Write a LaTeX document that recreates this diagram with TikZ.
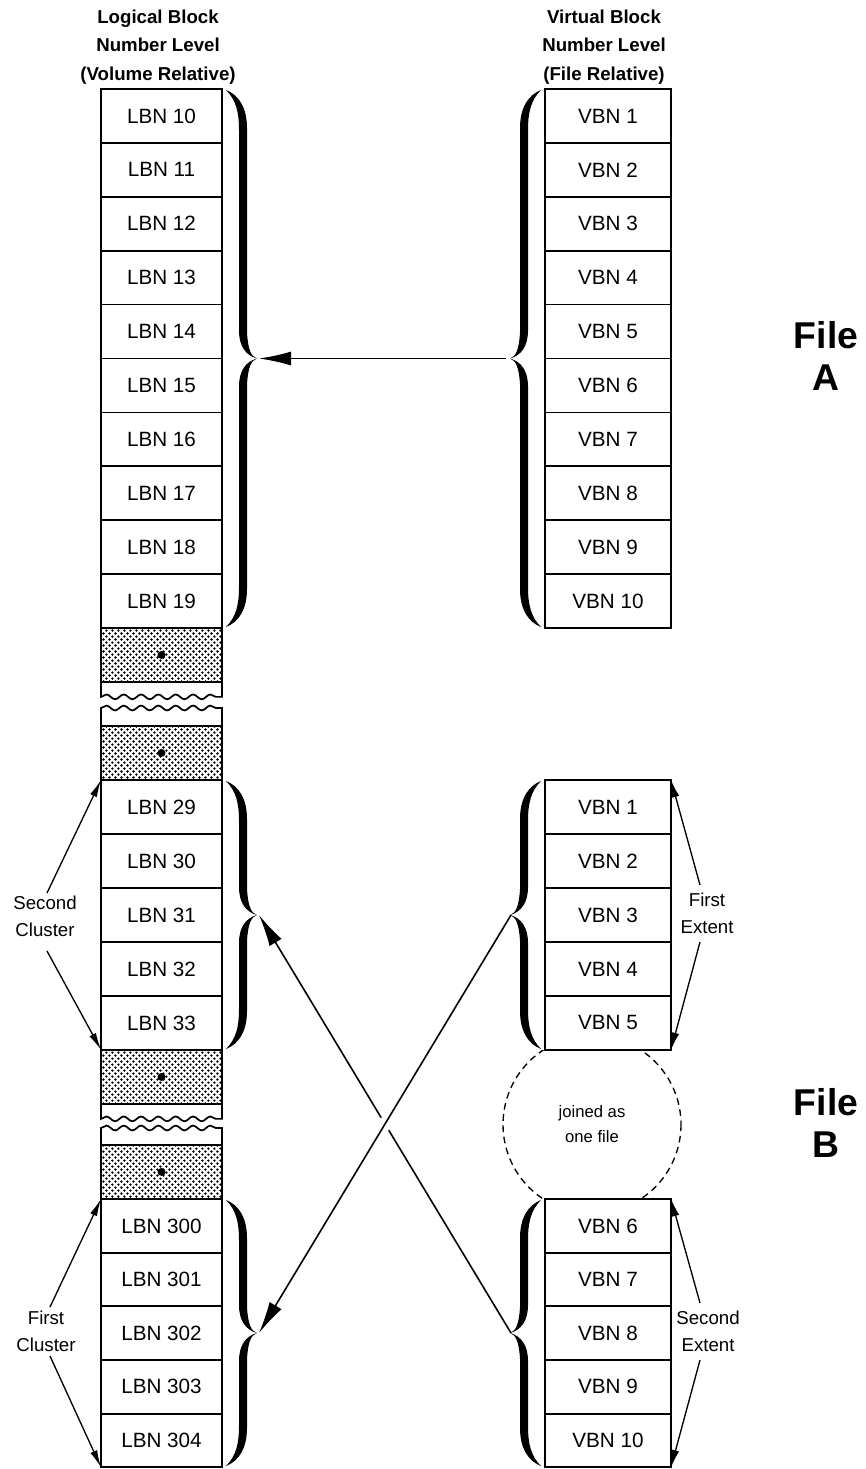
\documentclass[tikz,border=0pt]{standalone}
\usepackage{fontspec}
\setmainfont{Liberation Sans}
\usetikzlibrary{arrows.meta,patterns,decorations.pathmorphing,calc}

% halftone stipple for the unused blocks
\pgfdeclarepatternformonly{stipple}{\pgfpointorigin}{\pgfqpoint{4.8pt}{4.8pt}}{\pgfqpoint{4.8pt}{4.8pt}}{%
  \pgfpathcircle{\pgfqpoint{1.2pt}{1.2pt}}{1.05pt}%
  \pgfpathcircle{\pgfqpoint{3.6pt}{3.6pt}}{1.05pt}%
  \pgfusepath{fill}}

% one half of a calligraphic brace, tip at the origin, end at distance #1 above
\newcommand\halfbrace[1]{%
  \fill (0,0) .. controls (-6,-2) and (-9,-9) .. (-10,-26)
    -- (-10,{-#1+38})
    .. controls (-10,{-#1+18}) and (-18,{-#1+5}) .. (-31,{-#1})
    .. controls (-21,{-#1+10}) and (-18,{-#1+22}) .. (-18,{-#1+40})
    -- (-18,-28)
    .. controls (-18,-12) and (-11,-3) .. (0,0) -- cycle;}

% full brace: #1 tip x, #2 top y, #3 bottom y, #4 = 1 closing, -1 opening
\newcommand\curly[4]{%
  \pgfmathsetmacro\bh{(#3-#2)/2}%
  \pgfmathsetmacro\bm{(#3+#2)/2}%
  \begin{scope}[shift={(#1,\bm)}, xscale=#4]\halfbrace{\bh}\end{scope}
  \begin{scope}[shift={(#1,\bm)}, xscale=#4, yscale=-1]\halfbrace{\bh}\end{scope}}

\tikzset{
  cell/.style={draw, line width=1.3pt, minimum width=90.75pt, minimum height=40.4pt,
    inner sep=0pt, outer sep=0pt, anchor=north west, font=\fontsize{15.5}{18}\selectfont},
  shade/.style={cell, pattern=stipple},
  edge/.style={line width=1.3pt, decoration={snake, amplitude=1.8pt, segment length=13pt}},
  hdr/.style={align=center, inner sep=0pt, font=\bfseries\fontsize{14}{21.5}\selectfont},
  side/.style={align=center, inner sep=0pt, font=\fontsize{14}{20}\selectfont},
  filelbl/.style={align=center, inner sep=0pt, font=\bfseries\fontsize{28}{32}\selectfont},
  bigarrow/.style={line width=1.2pt, -{Latex[length=24pt, width=10.5pt]}},
  smallarrow/.style={line width=1pt, -{Latex[length=13pt, width=5.5pt]}},
}

\begin{document}
\begin{tikzpicture}[x=0.75pt, y=-0.75pt]
\useasboundingbox (0,0) rectangle (866,1469);

% column headings
\node[hdr] (hl) at (158,47) {Logical Block\\Number Level\\(Volume Relative)};
\node[hdr] (hr) at (604,47) {Virtual Block\\Number Level\\(File Relative)};

% dashed join between the two extents, partly behind the blocks
\begin{scope}
  \clip (450,1050) rectangle (760,1199);
  \draw[line width=1pt, dash pattern=on 5pt off 3.5pt] (592,1124.5) circle (89);
\end{scope}
\node[side, font=\fontsize{12.5}{19}\selectfont] (join) at (592,1124) {joined as\\one file};

% logical blocks, file A
\foreach \n [count=\i from 0] in {10,...,19}
  \node[cell] (l\n) at (101,{89+53.9*\i}) {LBN \n};
% skipped region
\node[shade] (s1) at (101,628) {};
\fill (s1.center) circle (3pt);
\draw[edge] (s1.south west) -- ++(0,15) decorate {-- ++(121,0)} -- (s1.south east);
\node[shade] (s2) at (101,726) {};
\fill (s2.center) circle (3pt);
\draw[edge] (s2.north west) -- ++(0,-18) decorate {-- ++(121,0)} -- (s2.north east);
% logical blocks, second cluster
\foreach \n [count=\i from 0] in {29,...,33}
  \node[cell] (l\n) at (101,{780+54*\i}) {LBN \n};
\node[shade] (s3) at (101,1050) {};
\fill (s3.center) circle (3pt);
\draw[edge] (s3.south west) -- ++(0,15) decorate {-- ++(121,0)} -- (s3.south east);
\node[shade] (s4) at (101,1145) {};
\fill (s4.center) circle (3pt);
\draw[edge] (s4.north west) -- ++(0,-17) decorate {-- ++(121,0)} -- (s4.north east);
% logical blocks, first cluster
\foreach \n [count=\i from 0] in {300,...,304}
  \node[cell] (l\n) at (101,{1199+53.6*\i}) {LBN \n};

% virtual blocks
\foreach \n [count=\i from 0] in {1,...,10}
  \node[cell, minimum width=94.5pt] (a\n) at (545,{89+53.9*\i}) {VBN \n};
\foreach \n [count=\i from 0] in {1,...,5}
  \node[cell, minimum width=94.5pt] (b\n) at (545,{780+54*\i}) {VBN \n};
\foreach \n [count=\i from 0] in {6,...,10}
  \node[cell, minimum width=94.5pt] (b\n) at (545,{1199+53.6*\i}) {VBN \n};

% braces
\curly{257}{90}{627}{1}
\curly{257}{781}{1049}{1}
\curly{257}{1200}{1466}{1}
\curly{510}{90}{627}{-1}
\curly{510}{781}{1049}{-1}
\curly{510}{1200}{1466}{-1}

\coordinate (la) at (259,358.5);
\coordinate (lb) at (259,915);
\coordinate (lc) at (259,1333);
\coordinate (ra) at (506,358.5);
\coordinate (rb) at (511,915);
\coordinate (rc) at (511,1333);

% mapping arrows
\draw[bigarrow] (ra) -- (la);
\draw[bigarrow] (rb) -- (lc);
\draw[line width=1.2pt] (rc) -- ($(rc)!0.485!(lb)$);
\draw[bigarrow] ($(rc)!0.515!(lb)$) -- (lb);

% file labels
\node[filelbl] (fa) at (826,356) {File\\A};
\node[filelbl] (fb) at (826,1123) {File\\B};

% cluster and extent labels
\node[side] (sc) at (45,916) {Second\\Cluster};
\node[side] (fc) at (46,1331) {First\\Cluster};
\node[side] (fe) at (707,913) {First\\Extent};
\node[side] (se) at (708,1331) {Second\\Extent};

\coordinate (scu) at (47,893);
\coordinate (scd) at (47,951);
\coordinate (fcu) at (50,1307);
\coordinate (fcd) at (50,1356);
\coordinate (feu) at (700,885);
\coordinate (fed) at (700,942);
\coordinate (seu) at (700,1303);
\coordinate (sed) at (700,1360);

\draw[smallarrow] (scu) -- (l29.north west);
\draw[smallarrow] (scd) -- (l33.south west);
\draw[smallarrow] (fcu) -- (l300.north west);
\draw[smallarrow] (fcd) -- (l304.south west);
\draw[smallarrow] (feu) -- (b1.north east);
\draw[smallarrow] (fed) -- (b5.south east);
\draw[smallarrow] (seu) -- (b6.north east);
\draw[smallarrow] (sed) -- (b10.south east);
\end{tikzpicture}
\end{document}
